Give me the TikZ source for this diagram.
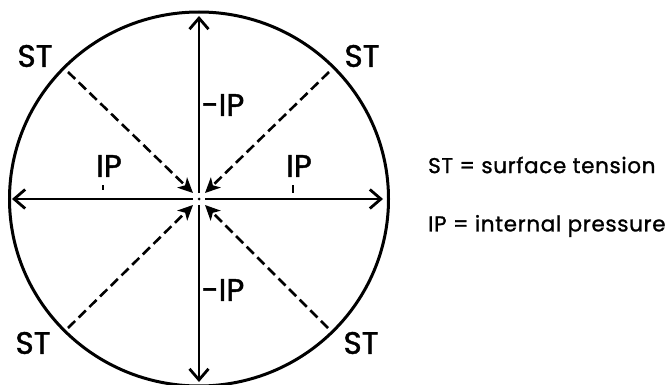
\documentclass[tikz,border=0pt]{standalone}
\usepackage{fontspec}
\setmainfont{Poppins}
\newfontfamily\lblfont{Poppins}[FakeBold=1.4]
\newfontfamily\legfont{Poppins}[FakeBold=1.2,LetterSpace=3]
\usetikzlibrary{arrows.meta}
\begin{document}
\begin{tikzpicture}[x=1pt,y=-1pt,
  force/.style={line width=2.8pt,-{Straight Barb[length=11pt,width=19pt,line width=2.8pt]}},
  stline/.style={line width=2.6pt,dash pattern=on 10pt off 5pt,-{Stealth[length=15pt,width=14pt,inset=4pt]}},
  biglbl/.style={font=\lblfont\fontsize{31}{33}\selectfont,inner sep=0pt},
  leg/.style={font=\legfont\fontsize{21.5}{24}\selectfont,inner sep=0pt,anchor=west}]
\useasboundingbox (0,0) rectangle (672,385);
\coordinate (c) at (199,199);
\draw[line width=3pt] (c) ellipse [x radius=189.5, y radius=187];
\fill (c) circle (1.5pt);
% solid arrows
\coordinate (u0) at (199,193); \coordinate (u1) at (199,16);
\coordinate (d0) at (199,205); \coordinate (d1) at (199,382);
\coordinate (l0) at (193,199); \coordinate (l1) at (12,199);
\coordinate (r0) at (205,199); \coordinate (r1) at (383,199);
\draw[force] (u0) -- (u1);
\draw[force] (d0) -- (d1);
\draw[force] (l0) -- (l1);
\draw[force] (r0) -- (r1);
% dashed arrows
\coordinate (a0) at (68,72);  \coordinate (a1) at (193,193);
\coordinate (b0) at (329,72); \coordinate (b1) at (205,193);
\coordinate (e0) at (68,328); \coordinate (e1) at (193,205);
\coordinate (f0) at (328,328);\coordinate (f1) at (205,205);
\draw[stline] (a0) -- (a1);
\draw[stline] (b0) -- (b1);
\draw[stline] (e0) -- (e1);
\draw[stline] (f0) -- (f1);
% labels
\node[biglbl] (st1) at (35,56) {ST};
\node[biglbl] (st2) at (362,56) {ST};
\node[biglbl] (st3) at (33,343) {ST};
\node[biglbl] (st4) at (361,343) {ST};
\node[biglbl] (ip1) at (223,105) {-IP};
\node[biglbl] (ip2) at (223,290) {-IP};
\node[biglbl] (ip3) at (109,166) {IP};
\node[biglbl] (ip4) at (299,166) {IP};
\draw[line width=1.5pt] (103,185) -- (103,190);
\draw[line width=2pt] (293,185) -- (293,193);
% legend
\node[leg] (lg1) at (428,165) {ST = surface tension};
\node[leg] (lg2) at (428,226) {IP = internal pressure};
\end{tikzpicture}
\end{document}
